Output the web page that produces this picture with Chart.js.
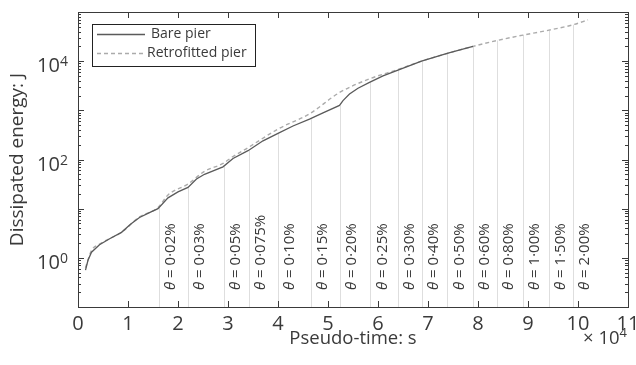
<!DOCTYPE html>
<html>
<head>
<meta charset="utf-8">
<script src="https://cdn.jsdelivr.net/npm/chart.js@4.4.1/dist/chart.umd.min.js"></script>
<style>
  body { margin: 0; background: #fff; }
  canvas { display: block; }
</style>
</head>
<body>
<canvas id="energyChart" width="636" height="365"></canvas>
<script>
// ====== DATOS ======
// pseudo-time in units of 1e4 s, dissipated energy in J
const bareTime = [0.15, 0.2, 0.27, 0.43, 0.65, 0.87, 1.05, 1.23, 1.45, 1.6, 1.8, 2.0, 2.2, 2.37, 2.53, 2.9, 3.1, 3.4, 3.7, 4.0, 4.3, 4.63, 4.9, 5.23, 5.3, 5.43, 5.6, 5.83, 6.1, 6.4, 6.87, 7.4, 7.9];
const bareEnergy = [0.56, 0.89, 1.3, 1.85, 2.5, 3.3, 4.8, 6.6, 8.5, 10, 16.6, 22, 27, 40, 50, 71, 105, 151, 240, 340, 480, 660, 890, 1260, 1580, 2140, 2820, 3700, 5000, 6600, 10000, 14500, 20000];

const retroTime = [0.15, 0.27, 0.43, 0.87, 1.23, 1.6, 1.8, 2.2, 2.53, 2.9, 3.1, 3.4, 4.0, 4.63, 5.23, 5.83, 6.4, 6.87, 7.4, 7.9, 8.38, 8.9, 9.42, 9.9, 10.2];
const retroEnergy = [0.63, 1.41, 1.9, 3.3, 6.8, 10.5, 19, 31.6, 57.5, 83, 115, 174, 417, 851, 2300, 4370, 6760, 10000, 14500, 20000, 26300, 33900, 42700, 55000, 69200];

// start of each drift-ratio stage
const stageTime = [1.62, 2.2, 2.91, 3.41, 4.0, 4.65, 5.23, 5.85, 6.4, 6.87, 7.39, 7.9, 8.38, 8.9, 9.42, 9.9];
const stageDrift = ["0·02%", "0·03%", "0·05%", "0·075%", "0·10%", "0·15%", "0·20%", "0·25%", "0·30%", "0·40%", "0·50%", "0·60%", "0·80%", "1·00%", "1·50%", "2·00%"];

const xTicks = [0, 1, 2, 3, 4, 5, 6, 7, 8, 9, 10, 11];
const yDecades = [-1, 0, 1, 2, 3, 4, 5];
const yLabelExps = [0, 2, 4];

const FONT = "'Open Sans', 'Noto Sans', sans-serif";
const INK = "#3a3a3a";

function toPoints(ts, es) {
    return ts.map((t, i) => ({ x: t, y: es[i] }));
}

// log-linear interpolation along a series
function energyAt(ts, es, t) {
    for (let i = 1; i < ts.length; i++) {
        if (t <= ts[i]) {
            const f = (t - ts[i - 1]) / (ts[i] - ts[i - 1]);
            const a = Math.log10(es[i - 1]), b = Math.log10(es[i]);
            return Math.pow(10, a + f * (b - a));
        }
    }
    return es[es.length - 1];
}

// ====== LÍNEAS DE ETAPA ======
const stagePlugin = {
    id: "stages",
    beforeDatasetsDraw(chart) {
        const { ctx, scales: { x, y } } = chart;
        ctx.save();
        ctx.strokeStyle = "#dedede";
        ctx.lineWidth = 1;
        stageTime.forEach(t => {
            const e = t <= bareTime[bareTime.length - 1]
                ? energyAt(bareTime, bareEnergy, t)
                : energyAt(retroTime, retroEnergy, t);
            const px = Math.round(x.getPixelForValue(t)) + 0.5;
            ctx.beginPath();
            ctx.moveTo(px, y.bottom);
            ctx.lineTo(px, y.getPixelForValue(e));
            ctx.stroke();
        });
        ctx.restore();
    },
    afterDatasetsDraw(chart) {
        const { ctx, scales: { x } } = chart;
        ctx.save();
        ctx.fillStyle = INK;
        ctx.textBaseline = "middle";
        stageTime.forEach((t, i) => {
            const px = x.getPixelForValue(t) + 12;
            ctx.save();
            ctx.translate(px, 290);
            ctx.rotate(-Math.PI / 2);
            ctx.font = "italic 15px " + FONT;
            ctx.fillText("θ", 0, 0);
            const w = ctx.measureText("θ").width;
            ctx.font = "15px " + FONT;
            ctx.fillText(" = " + stageDrift[i], w, 0);
            ctx.restore();
        });
        ctx.restore();
    }
};

// ====== EJES Y MARCO ======
const framePlugin = {
    id: "frame",
    afterDraw(chart) {
        const { ctx, chartArea: a, scales: { x, y } } = chart;
        ctx.save();
        ctx.strokeStyle = INK;
        ctx.lineWidth = 1;
        ctx.strokeRect(Math.round(a.left) + 0.5, Math.round(a.top) + 0.5,
            Math.round(a.right - a.left), Math.round(a.bottom - a.top));

        ctx.beginPath();
        xTicks.forEach(v => {
            const px = Math.round(x.getPixelForValue(v)) + 0.5;
            ctx.moveTo(px, a.bottom); ctx.lineTo(px, a.bottom - 6);
            ctx.moveTo(px, a.top); ctx.lineTo(px, a.top + 6);
        });
        yDecades.forEach(d => {
            for (let k = 1; k <= 9; k++) {
                const v = k * Math.pow(10, d);
                if (v > y.max * 1.0001) break;
                const py = Math.round(y.getPixelForValue(v)) + 0.5;
                const len = k === 1 ? 6 : 3;
                ctx.moveTo(a.left, py); ctx.lineTo(a.left + len, py);
                ctx.moveTo(a.right, py); ctx.lineTo(a.right - len, py);
            }
        });
        ctx.stroke();

        // tick labels
        ctx.fillStyle = INK;
        ctx.font = "20px " + FONT;
        ctx.textAlign = "center";
        ctx.textBaseline = "alphabetic";
        xTicks.forEach(v => ctx.fillText(String(v), x.getPixelForValue(v), 330));

        yLabelExps.forEach(n => {
            const py = y.getPixelForValue(Math.pow(10, n));
            ctx.font = "14px " + FONT;
            const sw = ctx.measureText(String(n)).width;
            ctx.textAlign = "right";
            ctx.fillText(String(n), a.left - 10, py + 5);
            ctx.font = "20px " + FONT;
            ctx.fillText("10", a.left - 10 - sw, py + 11);
        });

        // axis titles
        ctx.font = "18.5px " + FONT;
        ctx.textAlign = "center";
        ctx.fillText("Pseudo-time: s", (a.left + a.right) / 2, 344);

        ctx.textAlign = "right";
        ctx.font = "13px " + FONT;
        const ew = ctx.measureText("4").width;
        ctx.fillText("4", a.right - 1, 337);
        ctx.font = "18.5px " + FONT;
        ctx.fillText("× 10", a.right - 1 - ew, 344);

        ctx.save();
        ctx.translate(23, (a.top + a.bottom) / 2);
        ctx.rotate(-Math.PI / 2);
        ctx.textAlign = "center";
        ctx.font = "19px " + FONT;
        ctx.fillText("Dissipated energy: J", 0, 0);
        ctx.restore();

        // legend
        const lx = 92, ly = 24;
        ctx.fillStyle = "#fff";
        ctx.fillRect(lx, ly, 163, 42);
        ctx.strokeStyle = "#222";
        ctx.strokeRect(lx + 0.5, ly + 0.5, 163, 42);
        chart.data.datasets.forEach((ds, i) => {
            const ry = ly + 10.5 + i * 19;
            ctx.strokeStyle = ds.borderColor;
            ctx.lineWidth = ds.borderWidth;
            ctx.setLineDash(ds.borderDash || []);
            ctx.beginPath();
            ctx.moveTo(lx + 5, ry); ctx.lineTo(lx + 53, ry);
            ctx.stroke();
            ctx.setLineDash([]);
            ctx.fillStyle = INK;
            ctx.font = "14px " + FONT;
            ctx.textAlign = "left";
            ctx.textBaseline = "middle";
            ctx.fillText(ds.label, lx + (i === 0 ? 59 : 55), ry);
        });
        ctx.restore();
    }
};

// ====== GRÁFICO ======
new Chart(document.getElementById("energyChart"), {
    type: "line",
    data: {
        datasets: [{
            label: "Bare pier",
            data: toPoints(bareTime, bareEnergy),
            borderColor: "#5a5a5a",
            borderWidth: 1.3,
            pointRadius: 0,
            tension: 0
        }, {
            label: "Retrofitted pier",
            data: toPoints(retroTime, retroEnergy),
            borderColor: "#ababab",
            borderWidth: 1.4,
            borderDash: [4, 3],
            pointRadius: 0,
            cubicInterpolationMode: "monotone"
        }]
    },
    options: {
        responsive: false,
        animation: false,
        layout: { padding: { left: 78, top: 12, right: 8, bottom: 58 } },
        plugins: { legend: { display: false }, tooltip: { enabled: false } },
        scales: {
            x: { type: "linear", min: 0, max: 11, display: false },
            y: { type: "logarithmic", min: 0.1, max: 100000, display: false }
        }
    },
    plugins: [stagePlugin, framePlugin]
});
</script>
</body>
</html>
